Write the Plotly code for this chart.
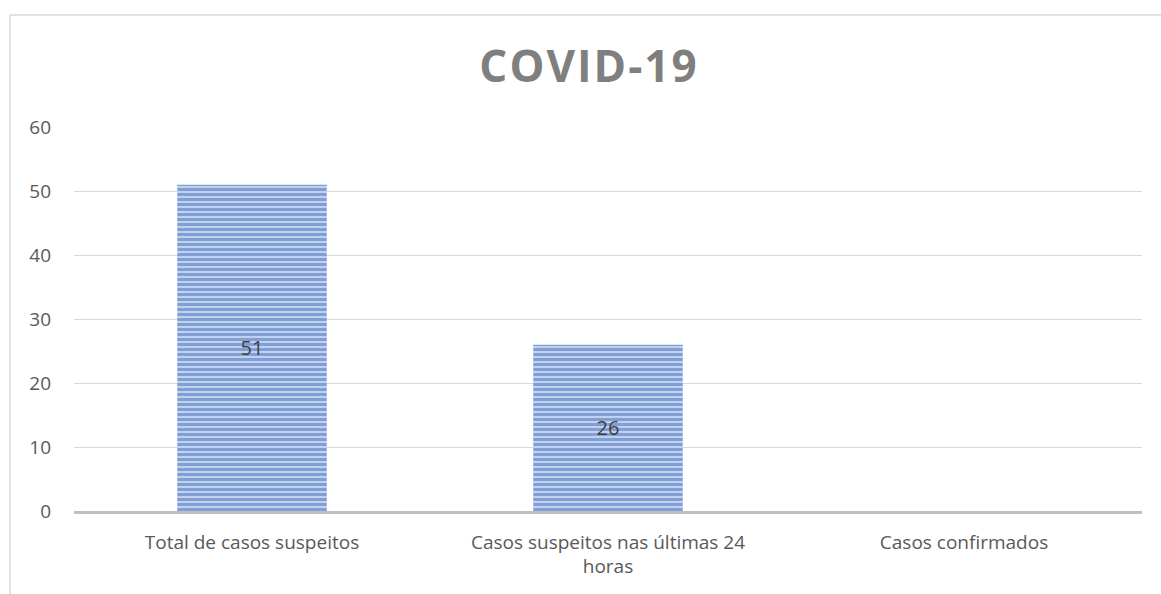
import plotly.graph_objects as go

categories = ["Total de casos suspeitos", "Casos suspeitos nas últimas 24<br>horas", "Casos confirmados"]
values = [51, 26, 0]
value_labels = ["51", "26", ""]
y_ticks = [0, 10, 20, 30, 40, 50, 60]
title_text = "COVID-19"

font_family = "Open Sans, Lato, sans-serif"

fig = go.Figure(
    go.Bar(
        x=categories,
        y=values,
        text=value_labels,
        textposition="inside",
        insidetextanchor="middle",
        textfont=dict(family=font_family, size=20, color="#404040"),
        width=0.42,
        marker=dict(
            color="#b4c7e7",
            line=dict(color="#c9d7f0", width=0),
            pattern=dict(shape="-", fgcolor="#3f6cc0", bgcolor="#c2d2ee", size=5, solidity=0.6),
        ),
        hoverinfo="skip",
    )
)

fig.update_layout(
    width=1161,
    height=594,
    paper_bgcolor="white",
    plot_bgcolor="white",
    margin=dict(l=74, r=19, t=127, b=83),
    showlegend=False,
    title=dict(
        text="<b>" + title_text + "</b>",
        x=589 / 1161,
        xref="container",
        xanchor="center",
        y=1 - 67 / 594,
        yref="container",
        yanchor="middle",
        font=dict(family=font_family, size=44, color="#7f7f7f"),
    ),
    xaxis=dict(
        showgrid=False,
        showline=True,
        linecolor="#bfbfbf",
        linewidth=2.5,
        ticks="",
        tickfont=dict(family=font_family, size=19, color="#595959"),
        ticklabelstandoff=12,
        fixedrange=True,
    ),
    yaxis=dict(
        range=[0, 60.05],
        tickvals=y_ticks,
        showgrid=True,
        gridcolor="#d9d9d9",
        gridwidth=1,
        zeroline=False,
        showline=False,
        ticks="",
        tickfont=dict(family=font_family, size=19, color="#595959"),
        ticklabelstandoff=22,
        fixedrange=True,
    ),
    shapes=[
        dict(type="line", xref="paper", yref="paper",
             x0=(10 - 74) / 1068, x1=(10 - 74) / 1068,
             y0=(511 - 15) / 384, y1=(511 - 600) / 384,
             line=dict(color="#d9d9d9", width=1.5)),
        dict(type="line", xref="paper", yref="paper",
             x0=(10 - 74) / 1068, x1=(1170 - 74) / 1068,
             y0=(511 - 15) / 384, y1=(511 - 15) / 384,
             line=dict(color="#d9d9d9", width=1.5)),
    ],
)

post = """
document.body.style.margin = '0px';
document.body.style.overflow = 'hidden';
var gd = document.getElementById('{plot_id}');
function fixTitle() {
  var t = gd.querySelector('.gtitle');
  if (t) { t.setAttribute('letter-spacing', '2px'); }
}
fixTitle();
if (gd.on) { gd.on('plotly_afterplot', fixTitle); }
"""

fig.write_html("out.html", post_script=post, config={"displayModeBar": False})
